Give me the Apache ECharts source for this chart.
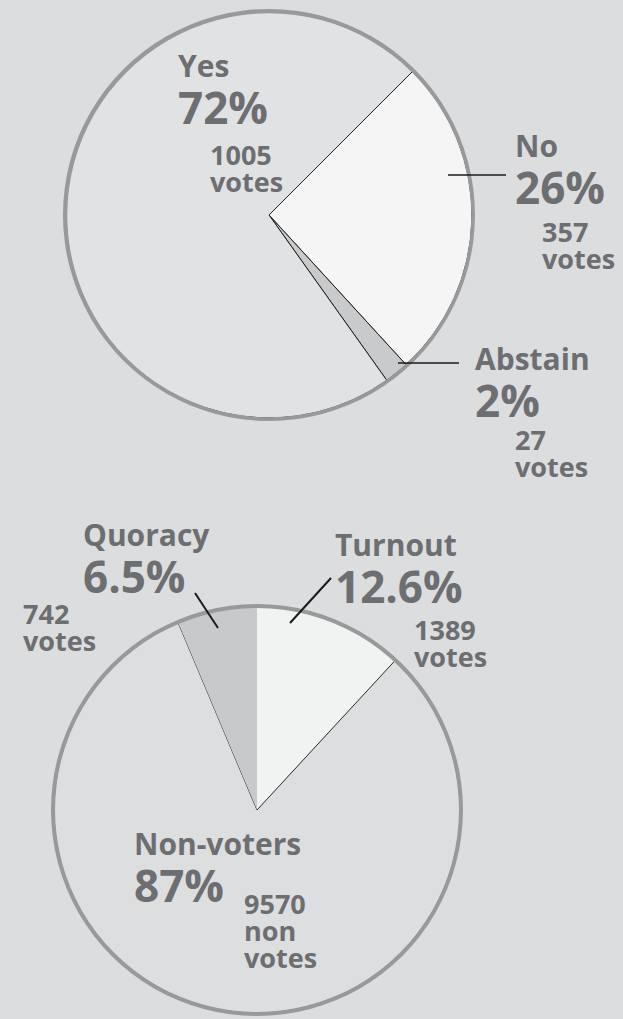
<!DOCTYPE html>
<html>
<head>
<meta charset="utf-8">
<script src="https://cdn.jsdelivr.net/npm/echarts@6/dist/echarts.min.js"></script>
<style>
html, body { margin: 0; padding: 0; background: #dcdddf; }
#chart { width: 623px; height: 1019px; }
</style>
</head>
<body>
<div id="chart"></div>
<script>
// ---------- DATA ----------
const ballotNames = ['No', 'Abstain', 'Yes'];
const ballotVotes = [357, 27, 1005];
const ballotPctLabels = ['26%', '2%', '72%'];
const ballotVoteUnits = ['votes', 'votes', 'votes'];

const turnoutNames = ['Turnout', 'Non-voters', 'Quoracy'];
const turnoutVotes = [1389, 9570, 742];
const turnoutPctLabels = ['12.6%', '87%', '6.5%'];
const turnoutVoteUnits = ['votes', 'non\nvotes', 'votes'];

// ---------- STYLE / LAYOUT ----------
const FONT = '"Open Sans", "Noto Sans", sans-serif';
const TEXT = '#6d6e71';
const NAME_SIZE = 30, PCT_SIZE = 44, VOTE_SIZE = 27;
const NAME_LH = 34, PCT_LH = 50, VOTE_LH = 27;
const BASE = 0.39; // baseline below line centre (fraction of font size)
const SLICE_R = 203;
const RING = [202, 206];

const pies = [
  {
    center: [269, 215], startAngle: 45,
    names: ballotNames, values: ballotVotes, pct: ballotPctLabels, units: ballotVoteUnits,
    colors: ['#f5f5f5', '#c9cacc', '#e1e2e4'],
    borderColors: ['#1e1e1e', '#1e1e1e', '#1e1e1e'],
    borderWidths: [1, 1, 1],
    nameAt: [[246, -58], [206, 155], [-91, -138]],
    voteAt: [[273, 27], [246, 235], [-59, -50]],
    // leader lines, relative to pie centre
    lines: [[[179, -40], [237, -40]], [[129, 148], [190, 148]], null],
    lineWidth: 1.3
  },
  {
    center: [257, 810], startAngle: 90,
    names: turnoutNames, values: turnoutVotes, pct: turnoutPctLabels, units: turnoutVoteUnits,
    colors: ['#f1f2f2', '#dddee0', '#c8c9cb'],
    borderColors: ['#f1f2f2', '#2a2a2a', '#c8c9cb'],
    borderWidths: [0, 1, 0],
    nameAt: [[78, -254], [-123, 45], [-174, -264]],
    voteAt: [[157, -170], [-13, 104], [-234, -186]],
    lines: [[[33, -187], [74, -232]], null, [[-39, -182], [-62, -217]]],
    lineWidth: 2
  }
];

const series = [];
const graphics = [];
pies.forEach(function (cfg) {
  const cx = cfg.center[0], cy = cfg.center[1];
  const common = {
    type: 'pie', center: cfg.center, startAngle: cfg.startAngle, clockwise: true,
    avoidLabelOverlap: false, minShowLabelAngle: 0, animation: false,
    emphasis: { disabled: true }, silent: true
  };
  // slices + name/percentage labels
  series.push(Object.assign({}, common, {
    radius: [0, SLICE_R],
    data: cfg.names.map(function (n, i) {
      return {
        name: n, value: cfg.values[i],
        itemStyle: { color: cfg.colors[i], borderColor: cfg.borderColors[i], borderWidth: cfg.borderWidths[i] }
      };
    }),
    label: {
      show: true, position: 'inside', overflow: 'none', color: TEXT,
      fontFamily: FONT, fontWeight: 'bold',
      formatter: function (p) { return '{n|' + p.name + '}\n{p|' + cfg.pct[p.dataIndex] + '}'; },
      rich: {
        n: { fontSize: NAME_SIZE, lineHeight: NAME_LH, fontWeight: 'bold', fontFamily: FONT, color: TEXT },
        p: { fontSize: PCT_SIZE, lineHeight: PCT_LH, fontWeight: 'bold', fontFamily: FONT, color: TEXT }
      }
    },
    labelLine: { show: false },
    labelLayout: function (p) {
      const a = cfg.nameAt[p.dataIndex];
      return {
        x: cx + a[0],
        y: cy + a[1] - BASE * NAME_SIZE - NAME_LH / 2,
        align: 'left', verticalAlign: 'top'
      };
    }
  }));
  // outer ring
  series.push(Object.assign({}, common, {
    radius: RING,
    data: [{ value: 1, itemStyle: { color: '#98999b' } }],
    label: { show: false }, labelLine: { show: false }
  }));
  // vote count labels (transparent overlay on same data)
  series.push(Object.assign({}, common, {
    radius: [0, SLICE_R],
    data: cfg.names.map(function (n, i) {
      return { name: n, value: cfg.values[i], itemStyle: { color: 'rgba(0,0,0,0)', borderWidth: 0 } };
    }),
    label: {
      show: true, position: 'inside', overflow: 'none', color: TEXT,
      fontFamily: FONT, fontWeight: 'bold', fontSize: VOTE_SIZE, lineHeight: VOTE_LH,
      formatter: function (p) { return p.value + '\n' + cfg.units[p.dataIndex]; }
    },
    labelLine: { show: false },
    labelLayout: function (p) {
      const a = cfg.voteAt[p.dataIndex];
      return {
        x: cx + a[0],
        y: cy + a[1] - BASE * VOTE_SIZE - VOTE_LH / 2,
        align: 'left', verticalAlign: 'top'
      };
    }
  }));
  // leader lines
  cfg.lines.forEach(function (ln) {
    if (!ln) return;
    graphics.push({
      type: 'line', silent: true, z: 10,
      shape: { x1: cx + ln[0][0], y1: cy + ln[0][1], x2: cx + ln[1][0], y2: cy + ln[1][1] },
      style: { stroke: '#1a1a1a', lineWidth: cfg.lineWidth }
    });
  });
});

const chart = echarts.init(document.getElementById('chart'), null, { renderer: 'svg' });
chart.setOption({
  backgroundColor: '#dcdddf',
  animation: false,
  series: series,
  graphic: graphics
});
</script>
</body>
</html>
